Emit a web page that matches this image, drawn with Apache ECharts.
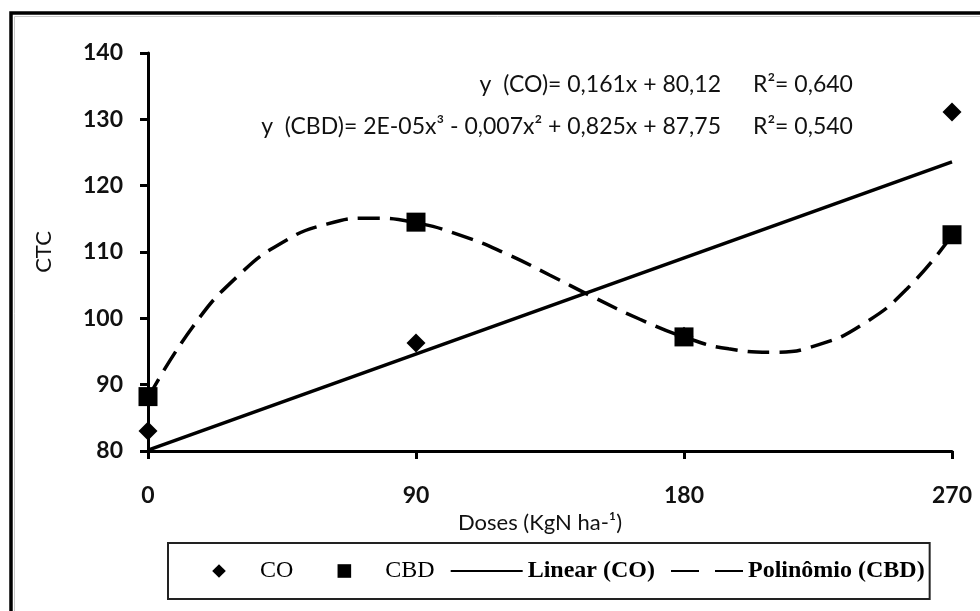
<!DOCTYPE html>
<html>
<head>
<meta charset="utf-8">
<title>CTC x Doses</title>
<script src="https://cdn.jsdelivr.net/npm/echarts@6/dist/echarts.min.js"></script>
<style>
  html, body { margin: 0; padding: 0; background: #fff; }
  #chart { width: 980px; height: 611px; }
</style>
</head>
<body>
<div id="chart"></div>
<script>
// Nitrogen doses (x) and CTC values for the two treatments
const doses = [0, 90, 180, 270];
const ctcCO = [83, 96.3, 97.3, 131.1];
const ctcCBD = [88.2, 114.5, 97.2, 112.6];

// Linear trend for CO (end points)
const linearX = [0, 270];
const linearY = [80.12, 123.59];

// Polynomial trend for CBD (curve samples)
const polyX = [0, 15, 30, 45, 60, 75, 90, 105, 120, 135, 150, 165, 180, 195, 210, 225, 240, 255, 270];
const polyY = [88.0, 98.7, 106.3, 111.4, 114.2, 115.1, 114.4, 112.5, 109.8, 106.5, 103.1, 99.9, 97.2, 95.4, 94.9, 96.0, 99.1, 104.5, 112.5];

// Axis ranges and ticks
const xMin = 0, xMax = 270, xStep = 90;
const yMin = 80, yMax = 140, yStep = 10;

// Trend equations
const eqCO = 'y  (CO)= 0,161x + 80,12';
const r2CO = 'R\u00b2= 0,640';
const eqCBD = 'y  (CBD)= 2E-05x\u00b3 - 0,007x\u00b2 + 0,825x + 87,75';
const r2CBD = 'R\u00b2= 0,540';

const sans = 'Lato, "Open Sans", sans-serif';
const serif = '"Liberation Serif", "DejaVu Serif", serif';

const zip = (xs, ys) => xs.map((x, i) => [x, ys[i]]);

const chart = echarts.init(document.getElementById('chart'), null, { renderer: 'canvas' });

// Point series are drawn as line series with a hidden line so their legend
// icon is a properly proportioned marker.
const hiddenLine = { width: 0, opacity: 0 };

chart.setOption({
  backgroundColor: '#ffffff',
  animation: false,
  grid: {
    left: 148, right: 28, top: 53, bottom: 160,
    containLabel: false,
    outerBoundsMode: 'none'
  },
  xAxis: {
    type: 'value',
    min: xMin, max: xMax, interval: xStep,
    name: 'Doses (KgN ha-\u00b9)',
    nameLocation: 'middle',
    nameGap: 41,
    nameTextStyle: { fontFamily: sans, fontSize: 22, color: '#111', padding: [0, 20, 0, 0] },
    axisLine: { show: true, onZero: false, lineStyle: { color: '#000', width: 3 } },
    axisTick: { show: true, inside: false, length: 8, lineStyle: { color: '#000', width: 3 } },
    axisLabel: { margin: 33, fontFamily: sans, fontSize: 23, fontWeight: 'bold', color: '#111' },
    splitLine: { show: false }
  },
  yAxis: {
    type: 'value',
    min: yMin, max: yMax, interval: yStep,
    name: 'CTC',
    nameLocation: 'middle',
    nameRotate: 90,
    nameGap: 93,
    nameTextStyle: { fontFamily: sans, fontSize: 22, color: '#111' },
    axisLine: { show: true, onZero: false, lineStyle: { color: '#000', width: 3 } },
    axisTick: { show: true, inside: false, length: 8, lineStyle: { color: '#000', width: 3 } },
    axisLabel: { margin: 25, fontFamily: sans, fontSize: 23, fontWeight: 'bold', color: '#111' },
    splitLine: { show: false }
  },
  legend: {
    left: 168, top: 543,
    orient: 'horizontal',
    itemWidth: 72, itemHeight: 17, itemGap: 15,
    padding: [16, 5, 16, 15],
    borderColor: '#222', borderWidth: 2,
    textStyle: { fontFamily: serif, fontSize: 24, color: '#000' },
    data: [
      { name: 'CO' },
      { name: 'CBD' },
      { name: 'Linear (CO)', textStyle: { fontWeight: 'bold' }, itemStyle: { opacity: 0 } },
      {
        name: 'Polin\u00f4mio (CBD)', textStyle: { fontWeight: 'bold' }, itemStyle: { opacity: 0 },
        lineStyle: { type: [28, 16] }
      }
    ]
  },
  series: [
    {
      name: 'Linear (CO)',
      type: 'line',
      data: zip(linearX, linearY),
      symbol: 'none',
      color: '#000',
      lineStyle: { color: '#000', width: 3.5, type: 'solid' },
      z: 2
    },
    {
      name: 'Polin\u00f4mio (CBD)',
      type: 'line',
      data: zip(polyX, polyY),
      symbol: 'none',
      smooth: true,
      color: '#000',
      lineStyle: { color: '#000', width: 3.5, type: [22, 10] },
      z: 2
    },
    {
      name: 'CO',
      type: 'line',
      data: zip(doses, ctcCO),
      symbol: 'diamond',
      symbolSize: 19,
      showSymbol: true,
      color: '#000',
      itemStyle: { color: '#000' },
      lineStyle: hiddenLine,
      z: 3
    },
    {
      name: 'CBD',
      type: 'line',
      data: zip(doses, ctcCBD),
      symbol: 'rect',
      symbolSize: 19,
      showSymbol: true,
      color: '#000',
      itemStyle: { color: '#000' },
      lineStyle: hiddenLine,
      z: 4
    }
  ],
  graphic: [
    // chart frame (top and left edges)
    {
      type: 'polyline', silent: true,
      shape: { points: [[11, 611], [11, 13], [980, 13]] },
      style: { stroke: '#000', lineWidth: 3.5, fill: null }
    },
    {
      type: 'polyline', silent: true,
      shape: { points: [[14.5, 611], [14.5, 16.5], [980, 16.5]] },
      style: { stroke: '#c8c8c8', lineWidth: 1, fill: null }
    },
    // trend equations
    {
      type: 'text', silent: true, x: 721, y: 85,
      style: { text: eqCO, font: '23px ' + sans, fill: '#111', align: 'right', verticalAlign: 'middle' }
    },
    {
      type: 'text', silent: true, x: 753, y: 85,
      style: { text: r2CO, font: '23px ' + sans, fill: '#111', align: 'left', verticalAlign: 'middle' }
    },
    {
      type: 'text', silent: true, x: 721, y: 127,
      style: { text: eqCBD, font: '23px ' + sans, fill: '#111', align: 'right', verticalAlign: 'middle' }
    },
    {
      type: 'text', silent: true, x: 753, y: 127,
      style: { text: r2CBD, font: '23px ' + sans, fill: '#111', align: 'left', verticalAlign: 'middle' }
    }
  ]
});
</script>
</body>
</html>
